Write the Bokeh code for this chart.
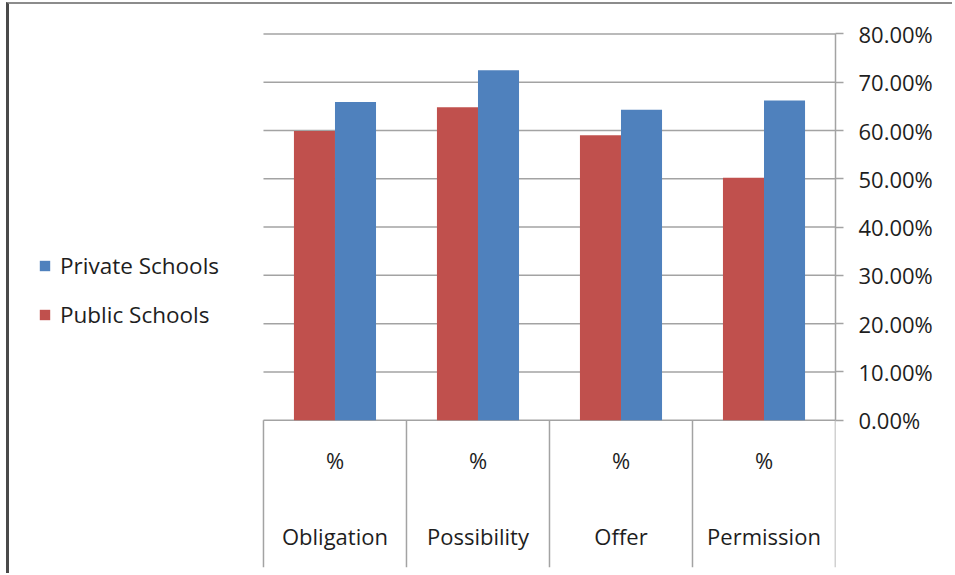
import numpy as np
from bokeh.plotting import figure
from bokeh.models import (ColumnDataSource, Range1d, FixedTicker,
                          NumeralTickFormatter, Legend, LegendItem)
from bokeh.core.properties import value
from bokeh.embed import file_html
from bokeh.resources import INLINE

# Share of each answer type, by school kind
categories = ["Obligation", "Possibility", "Offer", "Permission"]
public_schools = [0.599, 0.648, 0.590, 0.502]
private_schools = [0.659, 0.725, 0.643, 0.662]
y_ticks = [0.0, 0.1, 0.2, 0.3, 0.4, 0.5, 0.6, 0.7, 0.8]
row_label = "%"

FONT = "Open Sans"
TEXT_COLOR = "#1e1e1e"
GRID_COLOR = "#a3a3a3"
BLUE = "#4f81bd"
RED = "#c0504d"

n = len(categories)
centers = np.arange(n) + 0.5          # each category owns one unit of x
bar_w = 0.287

source = ColumnDataSource(dict(cat=categories, public=public_schools,
                               private=private_schools,
                               x_pub=centers - bar_w / 2,
                               x_pri=centers + bar_w / 2))

# The plotting frame also covers the legend strip on the left (1.776 units
# wide), so the legend can sit inside it; the page adds a thin frame on the
# top and left edges.
p = figure(width=946, height=571, output_backend="svg", toolbar_location=None,
           x_range=Range1d(-1.776, n), y_range=Range1d(-0.305, 0.803),
           x_axis_location=None, y_axis_location="right",
           min_border_left=0, min_border_right=120,
           min_border_top=28, min_border_bottom=8)
p.styles = {"margin-left": "6px", "margin-top": "2px",
            "border-left": "3px solid #4a4a4a",
            "border-top": "2px solid #8c8c8c"}
p.outline_line_color = None
p.xgrid.visible = False
p.ygrid.visible = False

ax = p.yaxis[0]
ax.ticker = FixedTicker(ticks=y_ticks)
ax.formatter = NumeralTickFormatter(format="0.00%")
ax.bounds = (0, 0.8)
ax.axis_line_color = GRID_COLOR
ax.axis_line_width = 1.5
ax.major_tick_line_color = GRID_COLOR
ax.major_tick_line_width = 1.5
ax.major_tick_out = 8
ax.major_tick_in = 0
ax.minor_tick_line_color = None
ax.major_label_standoff = 15
ax.major_label_text_font = FONT
ax.major_label_text_font_size = "22px"
ax.major_label_text_color = TEXT_COLOR

# Horizontal grid lines over the category span only
grid_src = ColumnDataSource(dict(y=y_ticks, x0=[0.0] * len(y_ticks),
                                 x1=[float(n)] * len(y_ticks)))
p.segment(x0="x0", y0="y", x1="x1", y1="y", source=grid_src,
          line_color=GRID_COLOR, line_width=1.5)

r_pub = p.vbar(x="x_pub", top="public", width=bar_w, source=source,
               fill_color=RED, line_color=None)
r_pri = p.vbar(x="x_pri", top="private", width=bar_w, source=source,
               fill_color=BLUE, line_color=None)

# Category table under the bars: separators and two text rows
y_bottom = p.y_range.start
edges = np.arange(n + 1, dtype=float)
sep_src = ColumnDataSource(dict(x=edges, y0=[0.0] * (n + 1),
                                y1=[y_bottom] * (n + 1)))
p.segment(x0="x", y0="y0", x1="x", y1="y1", source=sep_src,
          line_color=GRID_COLOR, line_width=1.5)

lab_src = ColumnDataSource(dict(x=centers, cat=categories, pct=[row_label] * n,
                                y_pct=[-0.083] * n, y_name=[-0.239] * n))
p.text(x="x", y="y_pct", text="pct", source=lab_src,
       text_font=value(FONT), text_font_size="22px", text_color=TEXT_COLOR,
       text_align="center", text_baseline="middle")
p.text(x="x", y="y_name", text="cat", source=lab_src,
       text_font=value(FONT), text_font_size="22px", text_color=TEXT_COLOR,
       text_align="center", text_baseline="middle")

legend = Legend(items=[LegendItem(label="Private Schools", renderers=[r_pri]),
                       LegendItem(label="Public Schools", renderers=[r_pub])],
                location=(29, 237), orientation="vertical",
                glyph_width=13, glyph_height=13, label_height=26,
                spacing=18, padding=0, margin=0, label_standoff=9,
                label_text_font=FONT, label_text_font_size="22.5px",
                label_text_color=TEXT_COLOR, border_line_color=None,
                background_fill_alpha=0)
p.add_layout(legend, "center")

open("out.html", "w").write(file_html(p, INLINE))
